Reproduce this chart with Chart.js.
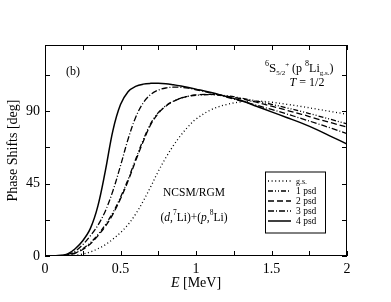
<!DOCTYPE html>
<html><head><meta charset="utf-8">
<script src="https://cdn.jsdelivr.net/npm/chart.js@4.4.1/dist/chart.umd.min.js"></script>
<style>html,body{margin:0;padding:0;background:#fff}canvas{display:block}</style>
</head><body>
<canvas id="c" width="391" height="302"></canvas>
<script>
const energies = [0,0.1,0.15,0.2,0.25,0.3,0.35,0.4,0.45,0.5,0.55,0.6,0.65,0.7,0.75,0.8,0.85,0.9,0.95,1.0,1.1,1.2,1.3,1.4,1.5,1.6,1.7,1.8,1.9,2.0];
const gs    = [0,0.05,0.2,0.5,1.2,2.5,4.5,7,10.5,14.5,19.5,26,34,43,52.5,61,68.5,75,80.5,85,90.8,94,95.7,96.2,95.5,94.2,92.8,91.2,89.6,88];
const psd1  = [0,0.2,0.8,2,4.5,8.2,13.2,19.5,27,36.5,47.5,60,72,82.2,89,93.3,96.1,98,99.2,99.8,100.2,99.5,98,96.2,94.2,92,89.7,87.2,84.6,82];
const psd2  = [0,0.2,0.7,1.8,4,7.5,12.5,18.5,26,35.5,46.5,59,71,81.5,88.5,93,96,98,99.3,100,100.3,99.3,97.6,95.5,93,90.5,88,85.2,82.6,80];
const psd3  = [0,0.3,1,3,7,12.5,19,28,40.5,56,72.5,86,95,100.3,103,104.3,104.8,104.7,104.2,103.2,101.3,98.7,96.2,93.6,91,88.2,85.3,82.3,79.2,76];
const psd4  = [0,0.3,1.3,4.5,9.5,17,31,53,78,94,102,105.3,106.7,107.2,107.3,107,106.3,105.5,104.6,103.6,101.5,99,96.5,93,89.5,86,82.5,78.5,74,69.5];
const seriesNames = ["g.s.","1 psd","2 psd","3 psd","4 psd"];
const xTickValues = [0,0.25,0.5,0.75,1,1.25,1.5,1.75,2];
const xTickLabels = ["0","","0.5","","1","","1.5","","2"];
const yTickValues = [0,22.5,45,67.5,90,112.5];
const yTickLabels = ["0","","45","","90",""];

const serif = "'Liberation Serif','Times New Roman',serif";
const dashes = [[1,2.6],[5,2,1,2,1,2],[6,3],[6,2,1,2],[]];
const widths = [1.3,1.3,1.3,1.3,1.5];
const allSeries = [gs,psd1,psd2,psd3,psd4];

const datasets = allSeries.map((s,i)=>({
  label: seriesNames[i],
  data: energies.map((e,k)=>({x:e,y:s[k]})),
  borderColor:'#000', borderWidth:widths[i], borderDash:dashes[i],
  pointRadius:0, fill:false, tension:0.35
}));

function drawRich(ctx, x, y, parts, align){
  let w=0;
  parts.forEach(p=>{ctx.font=(p[3]?'italic ':'')+p[1]+'px '+serif; w+=ctx.measureText(p[0]).width;});
  let cx = align==='center'? x-w/2 : (align==='right'? x-w : x);
  ctx.textAlign='left'; ctx.textBaseline='alphabetic';
  parts.forEach(p=>{ctx.font=(p[3]?'italic ':'')+p[1]+'px '+serif; ctx.fillText(p[0],cx,y+p[2]); cx+=ctx.measureText(p[0]).width;});
}

const deco = {
  id:'deco',
  afterDatasetsDraw(chart){
    const ctx=chart.ctx, a=chart.chartArea, xs=chart.scales.x, ys=chart.scales.y;
    ctx.save();
    ctx.strokeStyle='#000'; ctx.lineWidth=1; ctx.setLineDash([]);
    ctx.strokeRect(Math.round(a.left)+0.5, Math.round(a.top)+0.5, Math.round(a.right-a.left)-1, Math.round(a.bottom-a.top)-1);
    ctx.beginPath();
    xTickValues.forEach(v=>{const px=Math.round(xs.getPixelForValue(v))+0.5;
      ctx.moveTo(px,a.bottom); ctx.lineTo(px,a.bottom-5);
      ctx.moveTo(px,a.top); ctx.lineTo(px,a.top+5);});
    yTickValues.forEach(v=>{const py=Math.round(ys.getPixelForValue(v))+0.5;
      ctx.moveTo(a.left,py); ctx.lineTo(a.left+5,py);
      ctx.moveTo(a.right,py); ctx.lineTo(a.right-5,py);});
    ctx.stroke();
    ctx.fillStyle='#000';
    drawRich(ctx,66,75,[["(b)",12,0]],'left');
    drawRich(ctx,265,72,[["6",8,-6],["S",13,0],["5/2",7,3],["+",7,-5],[" (p ",12,0],["8",8,-6],["Li",12,0],["g.s.",7,3],[")",12,0]],'left');
    drawRich(ctx,307,86,[["T",12,0,true],[" = 1/2",12,0]],'center');
    drawRich(ctx,194,196,[["NCSM/RGM",11.5,0]],'center');
    drawRich(ctx,194,221,[["(",11.5,0],["d",11.5,0,true],[",",11.5,0],["7",7.5,-6],["Li)+(",11.5,0],["p",11.5,0,true],[",",11.5,0],["8",7.5,-6],["Li)",11.5,0]],'center');
    drawRich(ctx,196,287,[["E",14,0,true],[" [MeV]",14,0]],'center');
    const L=265,T=171.5,W=60,H=61;
    ctx.lineWidth=1; ctx.setLineDash([]);
    ctx.fillStyle='#fff'; ctx.fillRect(L,T,W,H);
    ctx.strokeStyle='#000'; ctx.strokeRect(L+0.5,T+0.5,W,H);
    ctx.fillStyle='#000';
    chart.data.datasets.forEach((d,i)=>{
      const yy=T+9.5+i*10;
      ctx.beginPath(); ctx.setLineDash(d.borderDash); ctx.lineWidth=d.borderWidth;
      ctx.moveTo(L+3,yy); ctx.lineTo(L+26,yy); ctx.stroke();
      ctx.setLineDash([]);
      drawRich(ctx,L+31,yy+3,[[d.label,i===0?8:9.5,0]],'left');
    });
    ctx.restore();
  }
};

new Chart(document.getElementById('c'),{
  type:'line',
  data:{datasets},
  options:{
    responsive:false, animation:false,
    layout:{padding:{left:0,top:45,right:44,bottom:0}},
    plugins:{legend:{display:false},tooltip:{enabled:false}},
    scales:{
      x:{type:'linear',min:0,max:2,
        afterFit(s){s.height=46;},
        afterBuildTicks(s){s.ticks=xTickValues.map(v=>({value:v}));},
        grid:{display:false,drawTicks:false},border:{display:false},
        ticks:{autoSkip:false,maxRotation:0,padding:5,color:'#000',font:{family:serif,size:14},
          callback:(v)=>{const i=xTickValues.indexOf(v);return i>=0?xTickLabels[i]:'';}}},
      y:{type:'linear',min:0,max:131,
        afterFit(s){s.width=45;},
        afterBuildTicks(s){s.ticks=yTickValues.map(v=>({value:v}));},
        grid:{display:false,drawTicks:false},border:{display:false},
        title:{display:true,text:'Phase Shifts [deg]',color:'#000',font:{family:serif,size:14},padding:{top:5,bottom:0}},
        ticks:{autoSkip:false,padding:5,color:'#000',font:{family:serif,size:14},
          callback:(v)=>{const i=yTickValues.indexOf(v);return i>=0?yTickLabels[i]:'';}}}
    }
  },
  plugins:[deco]
});
</script>
</body></html>
